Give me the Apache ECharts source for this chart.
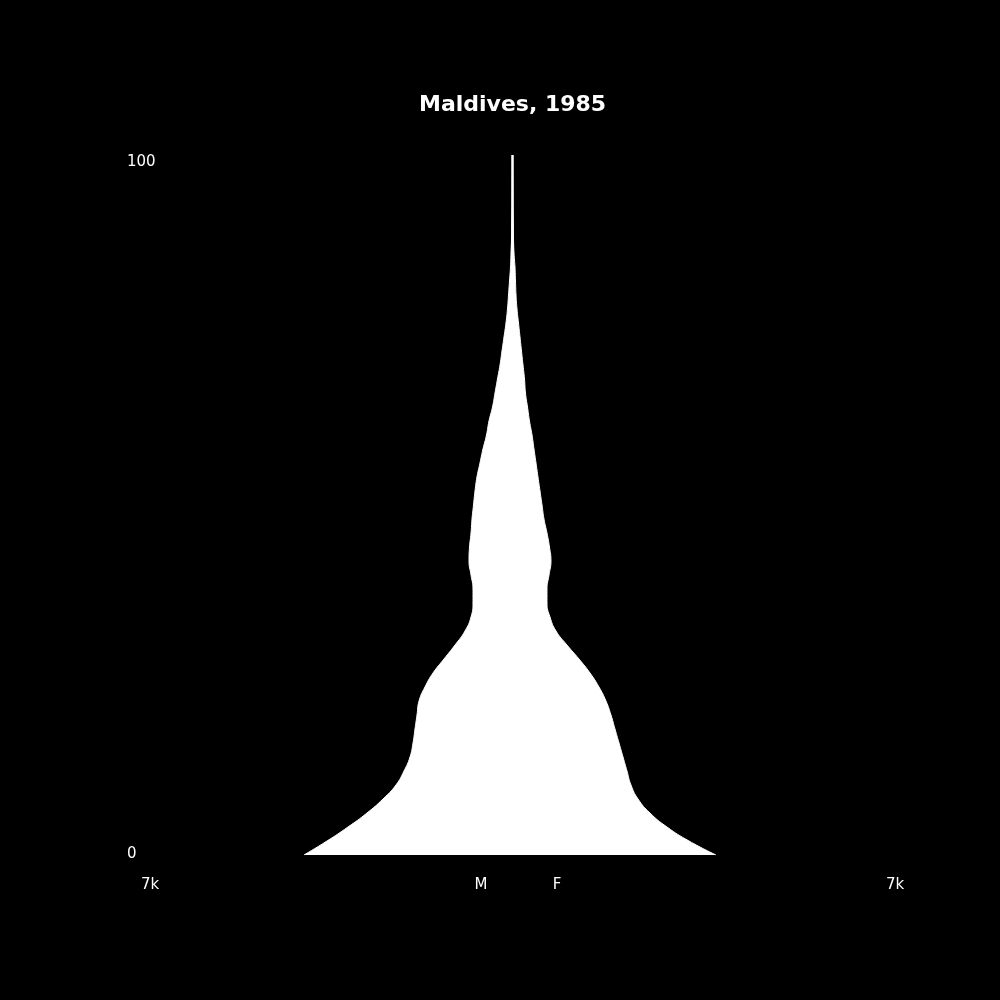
<!DOCTYPE html>
<html>
<head>
<meta charset="utf-8">
<script src="https://cdn.jsdelivr.net/npm/echarts@6/dist/echarts.min.js"></script>
<style>
html,body{margin:0;padding:0;background:#000;}
#chart{width:1000px;height:1000px;}
</style>
</head>
<body>
<div id="chart"></div>
<script>
// Ages (every 2 years)
const ages = [0,2,4,6,8,10,12,14,16,18,20,22,24,26,28,30,32,34,36,38,40,42,44,46,48,50,52,54,56,58,60,62,64,66,68,70,72,74,76,78,80,82,84,86,88,90,92,94,96,98,100];
// Male population (plotted to the left, negative)
const male = [-4026,-3582,-3177,-2810,-2501,-2250,-2095,-1979,-1921,-1883,-1844,-1805,-1690,-1535,-1323,-1110,-917,-801,-763,-763,-801,-840,-830,-801,-782,-753,-724,-686,-628,-570,-502,-454,-386,-338,-290,-241,-203,-164,-126,-97,-77,-58,-39,-29,-19,-15,-10,-6,-4,-2,-1];
// Female population (plotted to the right)
const female = [3930,3408,2983,2655,2424,2288,2211,2134,2057,1979,1902,1805,1670,1497,1284,1052,840,724,666,666,705,743,714,666,608,570,531,492,454,415,377,328,290,251,232,203,174,145,116,87,68,58,48,29,19,15,10,6,4,2,1];
// Tick / side labels
const xExtent = 7000;
const xExtentLabel = '7k';
const sideLabels = ['M', 'F'];
const yTickLabels = ['0', '100'];
const titleText = 'Maldives, 1985';

const FONT = 'DejaVu Sans';
const chart = echarts.init(document.getElementById('chart'));
const labelStyle = (t) => ({ text: t, fill: '#fff', font: '15px "' + FONT + '"', align: 'center', verticalAlign: 'middle' });
const option = {
  backgroundColor: '#000000',
  animation: false,
  title: {
    text: titleText,
    left: 414,
    top: 89,
    textStyle: { color: '#ffffff', fontSize: 22, fontWeight: 'bold', fontFamily: FONT }
  },
  grid: { left: 150, right: 125, top: 155, bottom: 145 },
  xAxis: {
    type: 'value', min: -xExtent, max: xExtent,
    axisLine: { show: false }, axisTick: { show: false },
    axisLabel: { show: false }, splitLine: { show: false }
  },
  yAxis: {
    type: 'category', data: ages, boundaryGap: false,
    axisLine: { show: false }, axisTick: { show: false }, splitLine: { show: false },
    axisLabel: {
      interval: function (idx) { return idx === 0 || idx === ages.length - 1; },
      formatter: function (v) {
        const s = String(v);
        if (s === yTickLabels[1]) return '{top|' + s + '}';
        if (s === yTickLabels[0]) return '{bot|' + s + '}';
        return '';
      },
      rich: {
        top: { color: '#ffffff', fontSize: 15, fontFamily: FONT, padding: [14, 0, 0, 0] },
        bot: { color: '#ffffff', fontSize: 15, fontFamily: FONT, padding: [0, 0, 2, 0] }
      },
      align: 'left', margin: 23, color: '#ffffff', fontSize: 15, fontFamily: FONT
    }
  },
  series: [
    {
      name: 'M', type: 'line', data: male, smooth: 0.5, symbol: 'none',
      lineStyle: { color: '#ffffff', width: 1 },
      areaStyle: { color: '#ffffff', opacity: 1 },
      markLine: {
        silent: true, symbol: 'none', label: { show: false },
        lineStyle: { color: '#ffffff', width: 2.5, type: 'solid' },
        data: [{ xAxis: 0 }]
      }
    },
    {
      name: 'F', type: 'line', data: female, smooth: 0.5, symbol: 'none',
      lineStyle: { color: '#ffffff', width: 1 },
      areaStyle: { color: '#ffffff', opacity: 1 }
    }
  ],
  graphic: [
    { type: 'text', x: 150, y: 885, style: labelStyle(xExtentLabel) },
    { type: 'text', x: 481, y: 885, style: labelStyle(sideLabels[0]) },
    { type: 'text', x: 557, y: 885, style: labelStyle(sideLabels[1]) },
    { type: 'text', x: 895, y: 885, style: labelStyle(xExtentLabel) }
  ]
};
chart.setOption(option);
</script>
</body>
</html>
